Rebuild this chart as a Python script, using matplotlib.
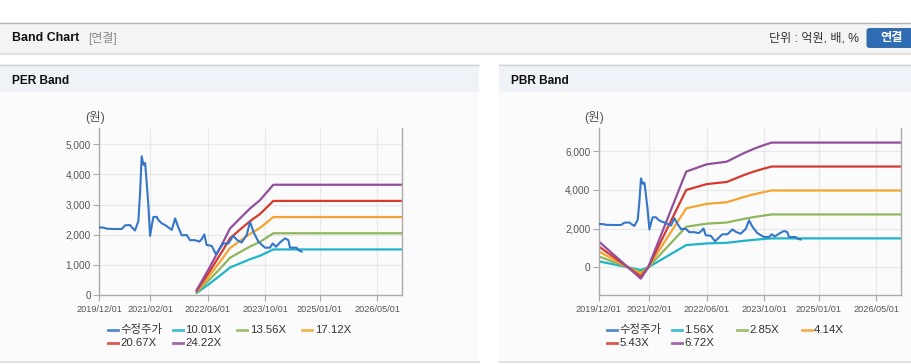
import numpy as np
import pandas as pd
import matplotlib
matplotlib.use("Agg")
from matplotlib import pyplot as plt
from matplotlib.patches import Rectangle, FancyBboxPatch
from matplotlib.lines import Line2D
import matplotlib.dates as mdates
from matplotlib.ticker import FuncFormatter

plt.rcParams['font.family'] = ['Liberation Sans', 'Noto Sans CJK KR']

# ---- data ----
priceDates = ["2019-12-01", "2020-01-05", "2020-02-01", "2020-04-01", "2020-06-07",
              "2020-07-05", "2020-08-16", "2020-08-30", "2020-09-27", "2020-10-25",
              "2020-11-08", "2020-11-22", "2020-12-07", "2020-12-21", "2021-01-04",
              "2021-01-18", "2021-02-01", "2021-02-15", "2021-03-01", "2021-03-29",
              "2021-04-12", "2021-05-09", "2021-06-08", "2021-08-03", "2021-08-31",
              "2021-09-28", "2021-10-26", "2021-12-06", "2022-01-03", "2022-02-14",
              "2022-03-23", "2022-04-11", "2022-05-04", "2022-05-23", "2022-07-05",
              "2022-08-10", "2022-09-13", "2022-10-11", "2022-11-22", "2023-01-03",
              "2023-02-06", "2023-03-14", "2023-04-26", "2023-05-24", "2023-06-21",
              "2023-08-02", "2023-09-27", "2023-11-08", "2023-12-01", "2023-12-29",
              "2024-01-31", "2024-03-14", "2024-04-11", "2024-04-25", "2024-06-20",
              "2024-07-04", "2024-08-01"]
price = [2240, 2235, 2200, 2190, 2190,
         2310, 2320, 2250, 2140, 2450,
         3350, 4600, 4320, 4380, 3700,
         2930, 1960, 2300, 2590, 2590,
         2490, 2380, 2320, 2160, 2540,
         2230, 1980, 1990, 1820, 1820,
         1770, 1850, 2010, 1660, 1630,
         1350, 1550, 1710, 1710, 1960,
         1820, 1740, 1990, 2430, 2100,
         1770, 1570, 1570, 1710, 1600,
         1740, 1880, 1820, 1570, 1570,
         1490, 1440]

# EPS used for the PER band (band = multiple x EPS)
epsDates = ["2022-03-01", "2022-06-21", "2022-10-11", "2022-12-06", "2023-03-01",
            "2023-05-24", "2023-08-16", "2023-10-25", "2023-12-06", "2026-11-27"]
eps = [6.9, 38.8, 73, 91, 105, 118.5, 130, 143, 151, 151]
perMult = [10.01, 13.56, 17.12, 20.67, 24.22]

# BPS used for the PBR band
bpsDates = ["2019-12-01", "2020-11-21", "2021-01-22", "2021-12-09", "2022-06-01",
            "2022-11-16", "2023-04-06", "2023-06-30", "2023-09-27", "2023-12-01",
            "2026-11-27"]
bps = [200, -87, 0, 737, 793, 813, 877, 911, 941, 960, 960]
pbrMult = [1.56, 2.85, 4.14, 5.43, 6.72]

xTicks = ["2019-12-01", "2021-02-01", "2022-06-01", "2023-10-01", "2025-01-01", "2026-05-01"]

priceColor = "#3476c8"
bandColors = ["#1fb4c9", "#8fb65a", "#f4a531", "#d63a2e", "#924f9e"]

W, H = 912, 364


def fx(x):
    return x / W


def fy(y):
    return 1 - y / H


def rect(fig, x0, y0, x1, y1, color, z=0):
    fig.patches.append(Rectangle((fx(x0), fy(y1)), (x1 - x0) / W, (y1 - y0) / H,
                                 transform=fig.transFigure, facecolor=color,
                                 edgecolor="none", zorder=z))


def hline(fig, x0, x1, y, color, lw=1.0):
    fig.add_artist(Line2D([fx(x0), fx(x1)], [fy(y), fy(y)], transform=fig.transFigure,
                          color=color, lw=lw))


def draw_panel(fig, x0, x1, title, axRect, ylim, yticks, multiples, baseDates, base,
               suffixFmt):
    # panel background + header
    rect(fig, x0, 64, x1, 92, "#eff2f7")
    rect(fig, x0, 92, x1, 362, "#fbfbfb")
    hline(fig, x0, x1, 64.5, "#d4d4d4")
    hline(fig, x0, x1, 362, "#dddddd", 1.2)
    fig.text(fx(x0 + 12), fy(80.5), title, fontsize=8.6, fontweight="bold",
             va="center", ha="left", color="#111111")

    l, r, t, b = axRect
    ax = fig.add_axes([fx(l), fy(b), (r - l) / W, (b - t) / H])
    ax.set_zorder(5)
    ax.set_facecolor("none")

    pd_dates = pd.to_datetime(priceDates)
    ax.plot(pd_dates, price, color=priceColor, lw=1.5, zorder=3)
    bd = pd.to_datetime(baseDates)
    for m, c in zip(multiples, bandColors):
        ax.plot(bd, np.array(base) * m, color=c, lw=1.6, zorder=2)

    ax.set_xlim(pd.Timestamp("2019-12-01"), pd.Timestamp("2026-11-27"))
    ax.set_ylim(*ylim)
    ax.set_yticks(yticks)
    ax.yaxis.set_major_formatter(FuncFormatter(lambda v, p: "{:,.0f}".format(v)))
    ax.set_xticks(pd.to_datetime(xTicks))
    ax.xaxis.set_major_formatter(mdates.DateFormatter("%Y/%m/%d"))
    ax.grid(True, color="#e8e8e8", lw=0.8)
    ax.set_axisbelow(True)
    for s in ["left", "bottom", "right"]:
        ax.spines[s].set_color("#aaaaaa")
        ax.spines[s].set_linewidth(1.0)
    ax.spines["top"].set_visible(False)
    ax.tick_params(axis="y", colors="#aaaaaa", labelcolor="#555555", labelsize=7.2,
                   length=4, pad=2)
    ax.tick_params(axis="x", colors="#aaaaaa", labelcolor="#555555", labelsize=6.6,
                   length=4, pad=3)
    fig.text(fx(l + 5.5), fy(117.5), "(원)", fontsize=9, color="#555555",
             ha="right", va="center")

    # legend, fixed column width like the original
    labels = ["수정주가"] + [suffixFmt.format(m) for m in multiples]
    colors = [priceColor] + bandColors
    lx0 = l + 8.5
    for i, (lab, c) in enumerate(zip(labels, colors)):
        row, col = divmod(i, 4)
        hx = lx0 + col * 64.8
        hy = 330 + row * 13.3
        fig.add_artist(Line2D([fx(hx), fx(hx + 10)], [fy(hy), fy(hy)],
                              transform=fig.transFigure, color=c, lw=2.0, alpha=0.85))
        fig.text(fx(hx + 12.5), fy(hy), lab, fontsize=8.2, color="#333333",
                 ha="left", va="center")
    return ax


def main():
    fig = plt.figure(figsize=(W / 100, H / 100), dpi=100)
    fig.patch.set_facecolor("white")

    # top header bar
    rect(fig, 0, 23, W, 52, "#f4f4f4")
    hline(fig, 0, W, 22.5, "#b4b4b4")
    hline(fig, 0, W, 52.5, "#a8a8a8")
    hline(fig, 0, W, 53.5, "#e2e2e2", 1.5)
    fig.text(fx(12), fy(38.3), "Band Chart", fontsize=8.9, fontweight="bold",
             va="center", ha="left", color="#111111")
    fig.text(fx(88), fy(38.3), "[연결]", fontsize=8.6, va="center", ha="left",
             color="#888888")
    fig.text(fx(859), fy(38.3), "단위 : 억원, 배, %", fontsize=8.7, va="center",
             ha="right", color="#333333")
    fig.patches.append(FancyBboxPatch((fx(867), fy(47.5)), (W + 10 - 867) / W, 19 / H,
                                      boxstyle="round,pad=0,rounding_size=0.004",
                                      transform=fig.transFigure, facecolor="#2e6db4",
                                      edgecolor="#2a5f9e", lw=0.6, zorder=2))
    fig.text(fx(891.5), fy(38.3), "연결", fontsize=8.8, fontweight="bold",
             va="center", ha="center", color="white", zorder=3)

    draw_panel(fig, 0, 479, "PER Band", (99.3, 402.3, 128.3, 295), (0, 5530),
               [0, 1000, 2000, 3000, 4000, 5000], perMult, epsDates, eps, "{:.2f}X")
    draw_panel(fig, 499, W, "PBR Band", (598.7, 901, 128.3, 295), (-1430, 7190),
               [0, 2000, 4000, 6000], pbrMult, bpsDates, bps, "{:.2f}X")

    plt.savefig("out.png", dpi=100)
    plt.close("all")


if __name__ == "__main__":
    main()
